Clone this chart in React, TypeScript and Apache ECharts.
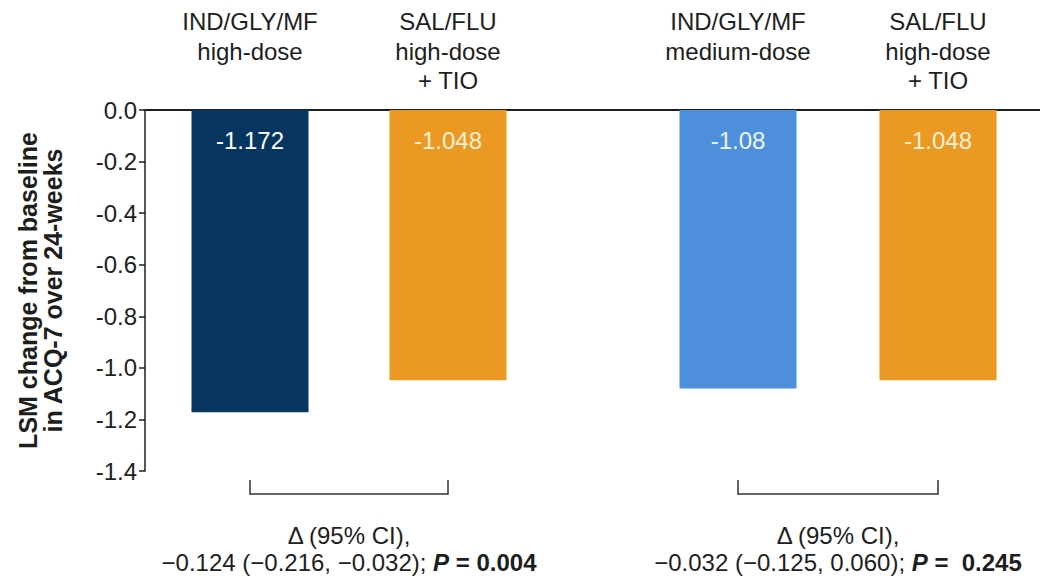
import React, { useEffect, useRef } from "react";
import * as echarts from "echarts";

const leftCategories = ["IND/GLY/MF\nhigh-dose", "SAL/FLU\nhigh-dose\n+ TIO"];
const rightCategories = ["IND/GLY/MF\nmedium-dose", "SAL/FLU\nhigh-dose\n+ TIO"];
const leftValues = [-1.172, -1.048];
const rightValues = [-1.08, -1.048];
const leftColors = ["#06355f", "#ea9a22"];
const rightColors = ["#4e8fdc", "#ea9a22"];
const leftLabelColors = ["#ffffff", "#fdf0d8"];
const rightLabelColors = ["#eef4ff", "#fdf0d8"];
const yMin = -1.4;
const yMax = 0;
const yInterval = 0.2;
const yTitle = "LSM change from baseline\nin ACQ-7 over 24-weeks";
const comparisonDelta = ["Δ (95% CI),", "Δ (95% CI),"];
const comparisonEstimate = ["−0.124 (−0.216, −0.032); ", "−0.032 (−0.125, 0.060); "];
const comparisonP = [" = 0.004", " =  0.245"];

const FONT = 'Arial, "Liberation Sans", sans-serif';
const INK = "#1e1e1e";
const FS = 24;

export default function App() {
  const ref = useRef<HTMLDivElement>(null);
  useEffect(() => {
    if (!ref.current) return;
    const chart = echarts.init(ref.current, undefined, { renderer: "svg" });
    const gridTop = 110;
    const gridH = 361;
    const grids = [
      { left: 151, top: gridTop, width: 396, height: gridH },
      { left: 638, top: gridTop, width: 400, height: gridH },
    ];
    const xAxisBase = (data: string[], gi: number) => ({
      type: "category",
      gridIndex: gi,
      data,
      position: "top",
      axisLine: { show: false },
      axisTick: { show: false },
      axisLabel: {
        interval: 0,
        fontSize: FS,
        lineHeight: 29.5,
        color: INK,
        fontFamily: FONT,
        verticalAlign: "top",
        margin: 103,
      },
    });
    const mkSeries = (vals: number[], colors: string[], lcolors: string[], gi: number) => ({
      type: "bar",
      xAxisIndex: gi,
      yAxisIndex: gi,
      barWidth: 117,
      data: vals.map((v, i) => ({
        value: v,
        itemStyle: { color: colors[i] },
        label: { color: lcolors[i] },
      })),
      label: {
        show: true,
        position: "insideTop",
        distance: 18,
        fontSize: FS,
        fontFamily: FONT,
        formatter: (p: any) => String(p.value),
      },
    });
    chart.setOption({
      animation: false,
      textStyle: { fontFamily: FONT },
      grid: grids,
      xAxis: [xAxisBase(leftCategories, 0), xAxisBase(rightCategories, 1)],
      yAxis: [
        {
          type: "value",
          gridIndex: 0,
          min: yMin,
          max: yMax,
          interval: yInterval,
          offset: 6,
          axisLine: { show: true, lineStyle: { color: INK, width: 1.5 } },
          axisTick: { show: true, length: 6, lineStyle: { color: INK, width: 1.5 } },
          splitLine: { show: false },
          axisLabel: {
            fontSize: FS,
            color: INK,
            fontFamily: FONT,
            margin: 8,
            formatter: (v: number) => v.toFixed(1),
          },
          name: yTitle,
          nameLocation: "middle",
          nameRotate: 90,
          nameGap: 80,
          nameTextStyle: {
            fontSize: 25,
            fontWeight: "bold",
            lineHeight: 25,
            color: INK,
            fontFamily: FONT,
          },
        },
        {
          type: "value",
          gridIndex: 1,
          min: yMin,
          max: yMax,
          interval: yInterval,
          show: false,
        },
      ],
      series: [
        mkSeries(leftValues, leftColors, leftLabelColors, 0),
        mkSeries(rightValues, rightColors, rightLabelColors, 1),
      ],
    });

    const graphics: any[] = [];
    const axisX = grids[0].left - 6;
    const zeroY = chart.convertToPixel({ gridIndex: 0 }, [0, 0])[1];
    const bottomY = chart.convertToPixel({ gridIndex: 0 }, [0, yMin])[1];
    graphics.push({
      type: "line",
      shape: { x1: axisX, y1: zeroY, x2: 1040, y2: zeroY },
      style: { stroke: INK, lineWidth: 1.8 },
    });
    [0, 1].forEach((gi) => {
      const a = chart.convertToPixel({ gridIndex: gi }, [0, 0])[0];
      const b = chart.convertToPixel({ gridIndex: gi }, [1, 0])[0];
      const y1 = bottomY + 9;
      const y2 = bottomY + 23;
      graphics.push({
        type: "polyline",
        shape: { points: [[a, y1], [a, y2], [b, y2], [b, y1]] },
        style: { stroke: "#333", lineWidth: 1.5, fill: null },
      });
      const cx = (a + b) / 2;
      graphics.push({
        type: "text",
        x: cx,
        y: bottomY + 64,
        style: {
          text: comparisonDelta[gi],
          align: "center",
          verticalAlign: "middle",
          fontSize: FS,
          fontFamily: FONT,
          fill: INK,
        },
      });
      graphics.push({
        type: "text",
        x: cx,
        y: bottomY + 91,
        style: {
          text: `{n|${comparisonEstimate[gi]}}{pi|P}{b|${comparisonP[gi]}}`,
          align: "center",
          verticalAlign: "middle",
          fontSize: FS,
          fontFamily: FONT,
          fill: INK,
          rich: {
            n: { fontSize: FS, fontFamily: FONT, fill: INK },
            pi: { fontSize: FS, fontFamily: FONT, fill: INK, fontWeight: "bold", fontStyle: "italic" },
            b: { fontSize: FS, fontFamily: FONT, fill: INK, fontWeight: "bold" },
          },
        },
      });
    });
    chart.setOption({ graphic: graphics });
    return () => chart.dispose();
  }, []);
  return (
    <div
      ref={ref}
      style={{ position: "fixed", left: 0, top: 0, width: 1043, height: 577, background: "#fff" }}
    />
  );
}
